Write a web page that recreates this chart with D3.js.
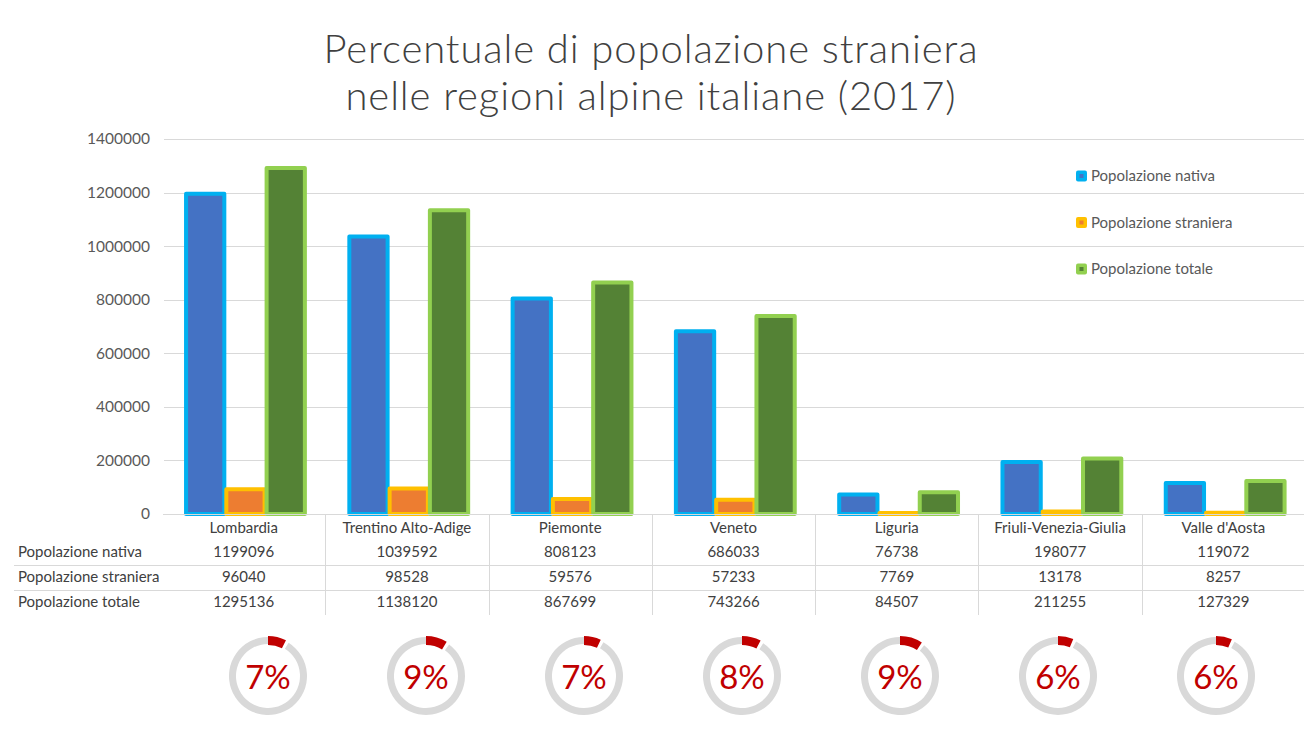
<!DOCTYPE html>
<html>
<head>
<meta charset="utf-8">
<script src="https://cdn.jsdelivr.net/npm/d3@7"></script>
<style>
  html, body { margin: 0; padding: 0; background: #fff; }
  svg { display: block; }
  text { font-family: Lato, "Open Sans", sans-serif; }
</style>
</head>
<body>
<svg id="chart" width="1304" height="731"></svg>
<script>
// ---- data ----
const titleLines = ["Percentuale di popolazione straniera", "nelle regioni alpine italiane (2017)"];
const categories = ["Lombardia", "Trentino Alto-Adige", "Piemonte", "Veneto", "Liguria", "Friuli-Venezia-Giulia", "Valle d'Aosta"];
const seriesNames = ["Popolazione nativa", "Popolazione straniera", "Popolazione totale"];
const nativa    = [1199096, 1039592, 808123, 686033, 76738, 198077, 119072];
const straniera = [96040, 98528, 59576, 57233, 7769, 13178, 8257];
const totale    = [1295136, 1138120, 867699, 743266, 84507, 211255, 127329];
const percentLabels = ["7%", "9%", "7%", "8%", "9%", "6%", "6%"];
const yTicks = [0, 200000, 400000, 600000, 800000, 1000000, 1200000, 1400000];

const seriesValues = [nativa, straniera, totale];
const fills   = ["#4472C4", "#ED7D31", "#548235"];
const strokes = ["#00B0F0", "#FFC000", "#92D050"];

const svg = d3.select("#chart");
const W = 1304;

// ---- title ----
const title = svg.append("g");
titleLines.forEach((t, i) => {
  title.append("text")
    .attr("x", 651).attr("y", 63 + i * 47)
    .attr("text-anchor", "middle")
    .attr("fill", "#404040")
    .attr("font-size", 40)
    .attr("font-weight", 300)
    .attr("letter-spacing", 0.9)
    .text(t);
});

// ---- scales ----
const plotLeft = 162, plotRight = 1305;
const y = d3.scaleLinear().domain([0, 1400000]).range([514, 139]);
const x0 = d3.scaleBand().domain(categories).range([plotLeft, plotRight]).paddingInner(0).paddingOuter(0);
const bw = x0.bandwidth();
const x1 = d3.scaleBand().domain(d3.range(3)).range([bw * 0.135, bw * 0.875]);

// ---- gridlines ----
svg.append("g").selectAll("line").data(yTicks).join("line")
  .attr("x1", 164).attr("x2", W)
  .attr("y1", d => Math.round(y(d)) + 0.5).attr("y2", d => Math.round(y(d)) + 0.5)
  .attr("stroke", "#D9D9D9").attr("stroke-width", 1);

// y axis labels
const yAxis = d3.axisLeft(y).tickValues(yTicks).tickFormat(d3.format("d")).tickSize(0).tickPadding(0);
const yg = svg.append("g").attr("transform", "translate(150,0)").call(yAxis);
yg.select(".domain").remove();
yg.selectAll("text").attr("fill", "#595959").attr("font-size", 15.5).attr("font-family", "Lato, sans-serif");

// ---- bars ----
const groups = svg.append("g").selectAll("g").data(categories).join("g")
  .attr("transform", d => `translate(${x0(d)},0)`);
groups.selectAll("rect").data((d, i) => seriesValues.map((s, k) => ({k, v: s[i]}))).join("rect")
  .attr("x", d => x1(d.k) + 2)
  .attr("width", x1.bandwidth() - 2)
  .attr("y", d => y(d.v) + 1)
  .attr("height", d => Math.max(0.5, 514 - y(d.v) - 1))
  .attr("fill", d => fills[d.k])
  .attr("stroke", d => strokes[d.k])
  .attr("stroke-width", 4)
  .attr("stroke-linejoin", "round");

// ---- x axis line ----
svg.append("line").attr("x1", 163).attr("x2", W).attr("y1", 514.5).attr("y2", 514.5)
  .attr("stroke", "#D9D9D9").attr("stroke-width", 1);

// ---- legend ----
const legend = svg.append("g");
seriesNames.forEach((n, i) => {
  const ly = 176 + i * 46.5;
  legend.append("rect").attr("x", 1076).attr("y", ly - 5.5).attr("width", 11).attr("height", 11)
    .attr("rx", 2).attr("fill", strokes[i]);
  legend.append("rect").attr("x", 1079.5).attr("y", ly - 2).attr("width", 4).attr("height", 4)
    .attr("fill", fills[i]);
  legend.append("text").attr("x", 1091).attr("y", ly).attr("dy", "0.35em")
    .attr("fill", "#595959").attr("font-size", 15).text(n);
});

// ---- data table ----
const table = svg.append("g");
const rowY = [552, 577, 602];
const tColor = "#404040";
// horizontal separators
[565.5, 590.5].forEach(ly => {
  table.append("line").attr("x1", 14).attr("x2", W).attr("y1", ly).attr("y2", ly)
    .attr("stroke", "#D9D9D9");
});
// vertical separators
table.selectAll("line.v").data(categories.slice(1)).join("line").attr("class", "v")
  .attr("x1", d => Math.round(x0(d)) + 0.5).attr("x2", d => Math.round(x0(d)) + 0.5)
  .attr("y1", 514).attr("y2", 615)
  .attr("stroke", "#D9D9D9");
// category labels
table.selectAll("text.cat").data(categories).join("text").attr("class", "cat")
  .attr("x", d => x0(d) + bw / 2).attr("y", 528).attr("dy", "0.35em")
  .attr("text-anchor", "middle").attr("fill", tColor).attr("font-size", 15)
  .text(d => d);
// row labels and values
seriesNames.forEach((n, r) => {
  table.append("text").attr("x", 18).attr("y", rowY[r]).attr("dy", "0.35em")
    .attr("fill", tColor).attr("font-size", 15).text(n);
  table.selectAll("text.r" + r).data(categories).join("text").attr("class", "r" + r)
    .attr("x", d => x0(d) + bw / 2).attr("y", rowY[r]).attr("dy", "0.35em")
    .attr("text-anchor", "middle").attr("fill", tColor).attr("font-size", 15)
    .text((d, i) => seriesValues[r][i]);
});

// ---- donuts ----
const xd = d3.scalePoint().domain(categories).range([268, 1216]);
const cy = 676;
const arcGray = d3.arc().innerRadius(32).outerRadius(39);
const arcRed = d3.arc().innerRadius(31).outerRadius(40);
const donuts = svg.append("g").selectAll("g").data(categories).join("g")
  .attr("transform", d => `translate(${xd(d)},${cy})`);
donuts.each(function(d, i) {
  const g = d3.select(this);
  const frac = straniera[i] / totale[i];
  const a = frac * 2 * Math.PI;
  const gap = 0.09;
  g.append("path").attr("d", arcGray({startAngle: a + gap, endAngle: 2 * Math.PI}))
    .attr("fill", "#D9D9D9");
  g.append("path").attr("d", arcRed({startAngle: 0, endAngle: a}))
    .attr("fill", "#C00000");
  g.append("text").attr("x", 0).attr("y", 13)
    .attr("text-anchor", "middle").attr("fill", "#C00000")
    .attr("font-size", 33).attr("font-weight", 400)
    .text(percentLabels[i]);
});
</script>
</body>
</html>
